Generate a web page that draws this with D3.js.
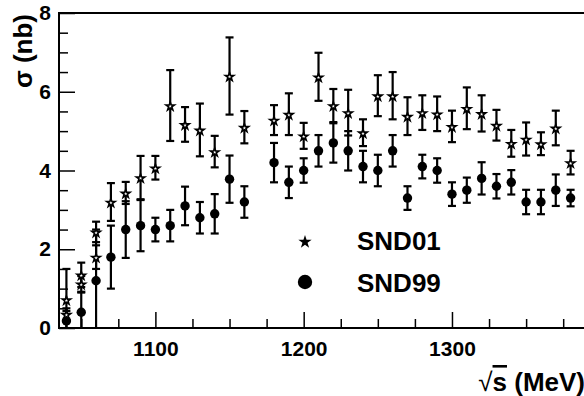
<!DOCTYPE html>
<html>
<head>
<meta charset="utf-8">
<script src="https://cdn.jsdelivr.net/npm/d3@7"></script>
<style>
body { margin: 0; background: #fff; }
text { font-family: "Liberation Sans", Arial, sans-serif; font-weight: bold; }
</style>
</head>
<body>
<div id="chart"></div>
<script>
// SND01 (stars), energies in MeV, cross section in nb
let snd01E   = [1040, 1040, 1050, 1050, 1060, 1060, 1070, 1080, 1090, 1100, 1110, 1120, 1130, 1140, 1150, 1160,
                1180, 1190, 1200, 1210, 1220, 1230, 1240, 1250, 1260, 1270, 1280, 1290, 1300, 1310, 1320, 1330,
                1340, 1350, 1360, 1370, 1380];
let snd01V   = [0.72, 0.35, 1.35, 1.12, 2.44, 1.8, 3.2, 3.43, 3.82, 4.07, 5.65, 5.17, 5.03, 4.48, 6.4, 5.1,
                5.28, 5.43, 4.88, 6.38, 5.65, 5.47, 4.96, 5.9, 5.9, 5.38, 5.47, 5.44, 5.12, 5.58, 5.45, 5.15,
                4.69, 4.8, 4.68, 5.08, 4.2];
let snd01Err = [0.78, 0.15, 0.31, 0.2, 0.26, 0.3, 0.48, 0.28, 0.55, 0.3, 0.9, 0.44, 0.67, 0.4, 0.98, 0.41,
                0.38, 0.53, 0.33, 0.61, 0.42, 0.58, 0.34, 0.52, 0.6, 0.48, 0.44, 0.44, 0.4, 0.53, 0.46, 0.39,
                0.34, 0.42, 0.29, 0.44, 0.3];

// SND99 (circles)
let snd99E   = [1040, 1050, 1060, 1070, 1080, 1090, 1100, 1110, 1120, 1130, 1140, 1150, 1160,
                1180, 1190, 1200, 1210, 1220, 1230, 1240, 1250, 1260, 1270, 1280, 1290, 1300, 1310, 1320,
                1330, 1340, 1350, 1360, 1370, 1380];
let snd99V   = [0.18, 0.4, 1.2, 1.8, 2.5, 2.6, 2.5, 2.6, 3.1, 2.8, 2.9, 3.78, 3.2,
                4.2, 3.7, 4.0, 4.5, 4.7, 4.5, 4.1, 4.0, 4.5, 3.3, 4.1, 4.0, 3.4, 3.5, 3.8,
                3.6, 3.7, 3.2, 3.2, 3.5, 3.3];
let snd99Err = [0.25, 0.5, 1.3, 0.8, 0.72, 0.65, 0.3, 0.4, 0.49, 0.4, 0.5, 0.6, 0.4,
                0.5, 0.4, 0.31, 0.4, 0.5, 0.5, 0.4, 0.4, 0.4, 0.3, 0.3, 0.31, 0.3, 0.32, 0.41,
                0.31, 0.31, 0.31, 0.31, 0.4, 0.21];

let xMajor = [1100, 1200, 1300];
let xMinor = [1050, 1075, 1125, 1150, 1175, 1225, 1250, 1275, 1325, 1350, 1375];
let yMajor = [0, 2, 4, 6, 8];
let yMinor = [0.5, 1, 1.5, 2.5, 3, 3.5, 4.5, 5, 5.5, 6.5, 7, 7.5];

let svg = d3.select("#chart").append("svg")
  .attr("width", 584)
  .attr("height", 396);

let x = d3.scaleLinear().domain([1035, 1392]).range([59, 588.4]);
let y = d3.scaleLinear().domain([0, 8]).range([328, 13]);

// frame (right side falls outside the picture)
svg.append("rect")
  .attr("x", x(1035)).attr("y", y(8))
  .attr("width", x(1392) - x(1035)).attr("height", y(0) - y(8))
  .attr("fill", "none").attr("stroke", "#000").attr("stroke-width", 2);

// axes, ticks pointing inward
let styleAxis = function(g) {
  g.select(".domain").remove();
  g.selectAll("line").attr("stroke", "#000").attr("stroke-width", 1.5);
  g.selectAll("text").attr("font-size", 21).attr("fill", "#000");
};

svg.append("g").attr("transform", "translate(0,328)")
  .call(d3.axisBottom(x).tickValues(xMajor).tickSize(-16).tickPadding(13).tickFormat(d3.format("d")))
  .call(styleAxis);
svg.append("g").attr("transform", "translate(0,328)")
  .call(d3.axisBottom(x).tickValues(xMinor).tickSize(-9).tickFormat(""))
  .call(styleAxis);
svg.append("g").attr("transform", "translate(59,0)")
  .call(d3.axisLeft(y).tickValues(yMajor).tickSize(-16).tickPadding(8).tickFormat(d3.format("d")))
  .call(styleAxis);
svg.append("g").attr("transform", "translate(59,0)")
  .call(d3.axisLeft(y).tickValues(yMinor).tickSize(-9).tickFormat(""))
  .call(styleAxis);

// error bars
let drawErr = function(E, V, Err) {
  let pts = E.map(function(e, i) { return {e: e, v: V[i], err: Err[i]}; });
  let g = svg.append("g").attr("stroke", "#000");
  pts.forEach(function(d) {
    let lo = Math.max(d.v - d.err, 0), hi = d.v + d.err;
    let cx = x(d.e);
    g.append("line").attr("x1", cx).attr("x2", cx)
      .attr("y1", y(lo)).attr("y2", y(hi)).attr("stroke-width", 2.2);
    g.append("line").attr("x1", cx - 4).attr("x2", cx + 4)
      .attr("y1", y(hi)).attr("y2", y(hi)).attr("stroke-width", 2.2);
    if (d.v - d.err > 0) {
      g.append("line").attr("x1", cx - 4).attr("x2", cx + 4)
        .attr("y1", y(lo)).attr("y2", y(lo)).attr("stroke-width", 2.2);
    }
  });
  return pts;
};

let p99 = drawErr(snd99E, snd99V, snd99Err);
let p01 = drawErr(snd01E, snd01V, snd01Err);

svg.append("g").selectAll("circle")
  .data(p99)
  .enter().append("circle")
  .attr("cx", function(d) { return x(d.e); })
  .attr("cy", function(d) { return y(d.v); })
  .attr("r", 4.7)
  .attr("fill", "#000");

let star = d3.symbol().type(d3.symbolStar);

svg.append("g").selectAll("path")
  .data(p01)
  .enter().append("path")
  .attr("d", star.size(22)())
  .attr("transform", function(d) { return "translate(" + x(d.e) + "," + (y(d.v) + 0.8) + ")"; })
  .attr("fill", "#fff")
  .attr("stroke", "#000")
  .attr("stroke-width", 1.6);

// legend
svg.append("path")
  .attr("d", d3.symbol().type(d3.symbolStar).size(55)())
  .attr("transform", "translate(305,242)")
  .attr("fill", "#000");
svg.append("circle").attr("cx", 305).attr("cy", 282).attr("r", 7.2).attr("fill", "#000");
svg.append("text").attr("x", 357).attr("y", 250).attr("font-size", 26).text("SND01");
svg.append("text").attr("x", 357).attr("y", 292).attr("font-size", 26).text("SND99");

// axis titles
let xt = svg.append("text").attr("x", 585).attr("y", 391)
  .attr("text-anchor", "end").attr("font-size", 26);
xt.append("tspan").attr("font-weight", "normal").text("\u221A");
xt.append("tspan").attr("text-decoration", "overline").text("s");
xt.append("tspan").text(" (MeV)");

svg.append("text")
  .attr("transform", "translate(32,14) rotate(-90)")
  .attr("text-anchor", "end").attr("font-size", 26)
  .text("\u03C3 (nb)");
</script>
</body>
</html>
